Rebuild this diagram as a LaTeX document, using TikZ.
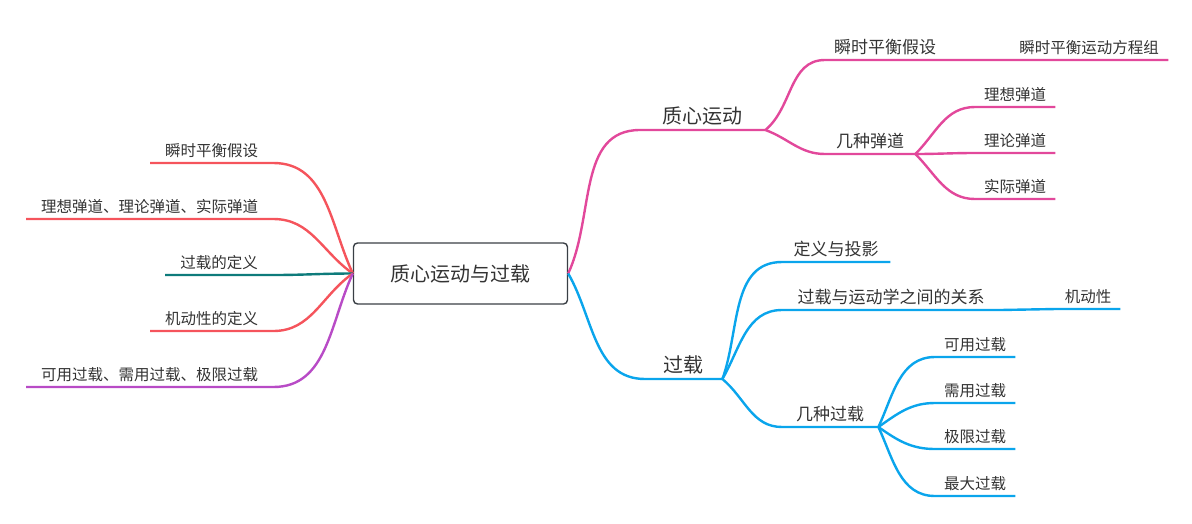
\documentclass[tikz,border=0pt]{standalone}
\usepackage{fontspec}
\setmainfont{Noto Sans CJK SC}
\usepackage{xcolor}
\usepackage{tikz}
\usetikzlibrary{arrows}
\usetikzlibrary{calc}
\definecolor{C0}{HTML}{E2489B}
\definecolor{C1}{HTML}{0AA5EC}
\definecolor{C2}{HTML}{F5545C}
\definecolor{C3}{HTML}{0E7B7B}
\definecolor{C4}{HTML}{B84BC6}
\definecolor{C5}{HTML}{333333}
\definecolor{C6}{HTML}{3A3F45}
\tikzstyle{root} = [draw=C6, line width=1.4pt, rounded corners=4pt, minimum width=214pt, minimum height=61pt, font=\fontsize{20}{24}\selectfont, text=C5]
\tikzstyle{big} = [anchor=south west, inner xsep=0pt, inner ysep=5pt, font=\fontsize{20}{24}\selectfont, text=C5]
\tikzstyle{mid} = [anchor=south west, inner xsep=0pt, inner ysep=5pt, font=\fontsize{17}{20}\selectfont, text=C5]
\tikzstyle{small} = [anchor=south west, inner xsep=0pt, inner ysep=5pt, font=\fontsize{15.5}{18}\selectfont, text=C5]
\tikzstyle{branch} = [line width=2.4pt]

\begin{document}
\begin{tikzpicture}[x=1pt, y=-1pt]
	\useasboundingbox (0,0) rectangle (1192,523) ;
	
	\node[root] (R) at (460.5,273.5) {质心运动与过载} ;
	
	\node[small, minimum width=123pt] (L1) at (150,163) {瞬时平衡假设} ;
	\node[small, minimum width=247pt] (L2) at (26,219) {理想弹道、理论弹道、实际弹道} ;
	\node[small, minimum width=108pt] (L3) at (165,275) {过载的定义} ;
	\node[small, minimum width=123pt] (L4) at (150,331) {机动性的定义} ;
	\node[small, minimum width=247pt] (L5) at (26,387) {可用过载、需用过载、极限过载} ;
	
	\node[big, minimum width=125pt] (Z) at (640,130) {质心运动} ;
	\node[mid, minimum width=120pt] (Z1) at (825,60) {瞬时平衡假设} ;
	\node[small, minimum width=158pt] (Z1a) at (1010,60) {瞬时平衡运动方程组} ;
	\node[mid, minimum width=90pt] (Z2) at (825,154) {几种弹道} ;
	\foreach \n/\t/\y in {1/理想弹道/107, 2/理论弹道/153, 3/实际弹道/199}
	{
		\node[small, minimum width=80pt] (D\n) at (975,\y) {\t} ;
	}
	
	\node[big, minimum width=77pt] (G) at (645,379) {过载} ;
	\node[mid, minimum width=108pt] (G1) at (782,262) {定义与投影} ;
	\node[mid, minimum width=218pt] (G2) at (782,310) {过载与运动学之间的关系} ;
	\node[small, minimum width=64pt] (G2a) at (1056,309) {机动性} ;
	\node[mid, minimum width=96pt] (G3) at (782,427) {几种过载} ;
	\foreach \n/\t/\y in {1/可用过载/357, 2/需用过载/403, 3/极限过载/449, 4/最大过载/496}
	{
		\node[small, minimum width=80pt] (K\n) at (935,\y) {\t} ;
	}
	
	\draw[branch, C2] (R.west) to[out=115, in=0] (L1.south east) -- (L1.south west) ;
	\draw[branch, C2] (R.west) to[out=145, in=0] (L2.south east) -- (L2.south west) ;
	\draw[branch, C3] (R.west) to[out=180, in=0] (L3.south east) -- (L3.south west) ;
	\draw[branch, C2] (R.west) to[out=215, in=0] (L4.south east) -- (L4.south west) ;
	\draw[branch, C4] (R.west) to[out=245, in=0] (L5.south east) -- (L5.south west) ;
	
	\draw[branch, C0] (R.east) to[out=65, in=180] (Z.south west) -- (Z.south east) ;
	\draw[branch, C0] (Z.south east) to[out=40, in=180] (Z1.south west) -- (Z1.south east) -- (Z1a.south west) -- (Z1a.south east) ;
	\draw[branch, C0] (Z.south east) to[out=-20, in=180] (Z2.south west) -- (Z2.south east) ;
	\foreach \n/\a in {1/45, 2/0, 3/-45}
	{
		\draw[branch, C0] (Z2.south east) to[out=\a, in=180] (D\n.south west) -- (D\n.south east) ;
	}
	
	\draw[branch, C1] (R.east) to[out=-60, in=180] (G.south west) -- (G.south east) ;
	\draw[branch, C1] (G.south east) to[out=70, in=180] (G1.south west) -- (G1.south east) ;
	\draw[branch, C1] (G.south east) to[out=60, in=180] (G2.south west) -- (G2.south east) -- (G2a.south west) -- (G2a.south east) ;
	\draw[branch, C1] (G.south east) to[out=-40, in=180] (G3.south west) -- (G3.south east) ;
	\foreach \n/\a in {1/65, 2/35, 3/-35, 4/-65}
	{
		\draw[branch, C1] (G3.south east) to[out=\a, in=180] (K\n.south west) -- (K\n.south east) ;
	}
\end{tikzpicture}
\end{document}
